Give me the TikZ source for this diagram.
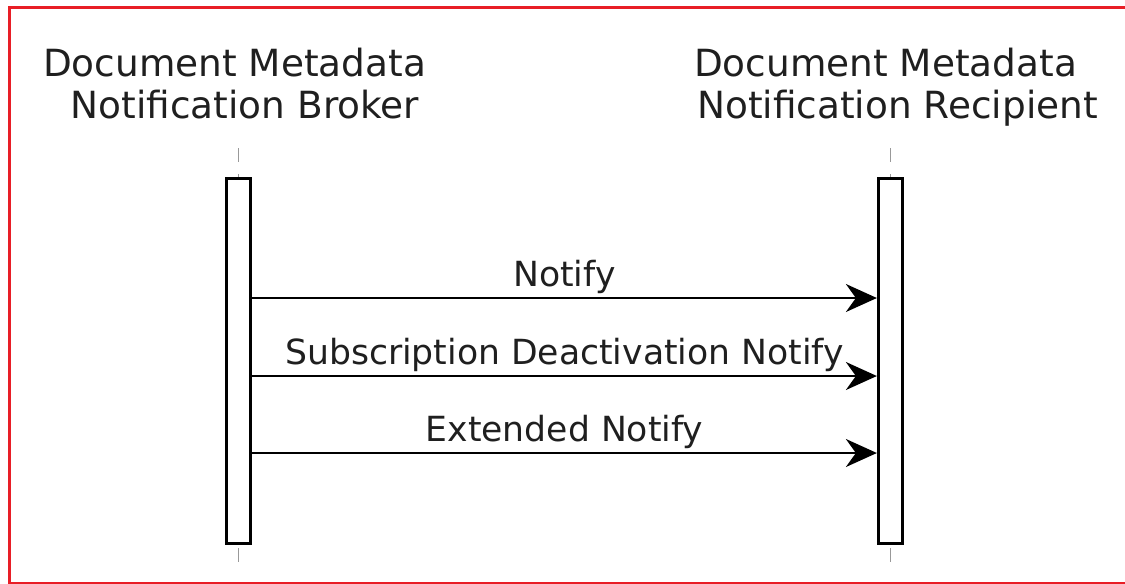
\documentclass[tikz,border=0pt]{standalone}
\usepackage{fontspec}
\setmainfont{DejaVu Sans}
\usetikzlibrary{arrows.meta}
\definecolor{framered}{RGB}{232,30,38}
\tikzset{
	head/.style={anchor=base,inner sep=0pt,text=black!88,font=\fontsize{21.3}{25}\selectfont},
	lbl/.style={anchor=base,inner sep=0pt,yshift=0.24cm,text=black!88,font=\fontsize{19.7}{24}\selectfont},
	lifebox/.style={draw,line width=0.055cm,fill=white,inner sep=0pt,minimum width=0.49cm,minimum height=7.31cm},
	life/.style={draw=black!40,line width=0.03cm,dash pattern=on 0.28cm off 0.24cm},
	msg/.style={line width=0.04cm,-{Stealth[length=0.62cm,width=0.56cm,inset=0.2cm]}}
}
\begin{document}
\begin{tikzpicture}[x=0.02cm,y=-0.02cm]
		\useasboundingbox (0,0) rectangle (1125,583);
		\draw[framered,line width=0.06cm] (1130,7.5) -- (9.5,7.5) -- (9.5,583) -- (1130,583);
		% participants
		\node[head] (h1) at (234.5,76) {Document Metadata};
		\node[head] (h2) at (245,118) {Notification Broker};
		\node[head] (h3) at (885.5,76) {Document Metadata};
		\node[head] (h4) at (897.5,118) {Notification Recipient};
		\draw[life] (238.5,148) -- (238.5,178);
		\draw[life] (890.5,148) -- (890.5,178);
		\draw[life] (238.5,548) -- (238.5,562);
		\draw[life] (890.5,548) -- (890.5,562);
		\node[lifebox] (brk) at (238.5,361) {};
		\node[lifebox] (rcp) at (890.5,361) {};
		% messages
		\coordinate (s1) at (brk.east |- 0,298);
		\coordinate (r1) at (rcp.west |- 0,298);
		\coordinate (s2) at (brk.east |- 0,376);
		\coordinate (r2) at (rcp.west |- 0,376);
		\coordinate (s3) at (brk.east |- 0,453);
		\coordinate (r3) at (rcp.west |- 0,453);
		\draw[msg] (s1) -- node[lbl] (t1) {Notify} (r1);
		\draw[msg] (s2) -- node[lbl] (t2) {Subscription Deactivation Notify} (r2);
		\draw[msg] (s3) -- node[lbl] (t3) {Extended Notify} (r3);
		\end{tikzpicture}
\end{document}
